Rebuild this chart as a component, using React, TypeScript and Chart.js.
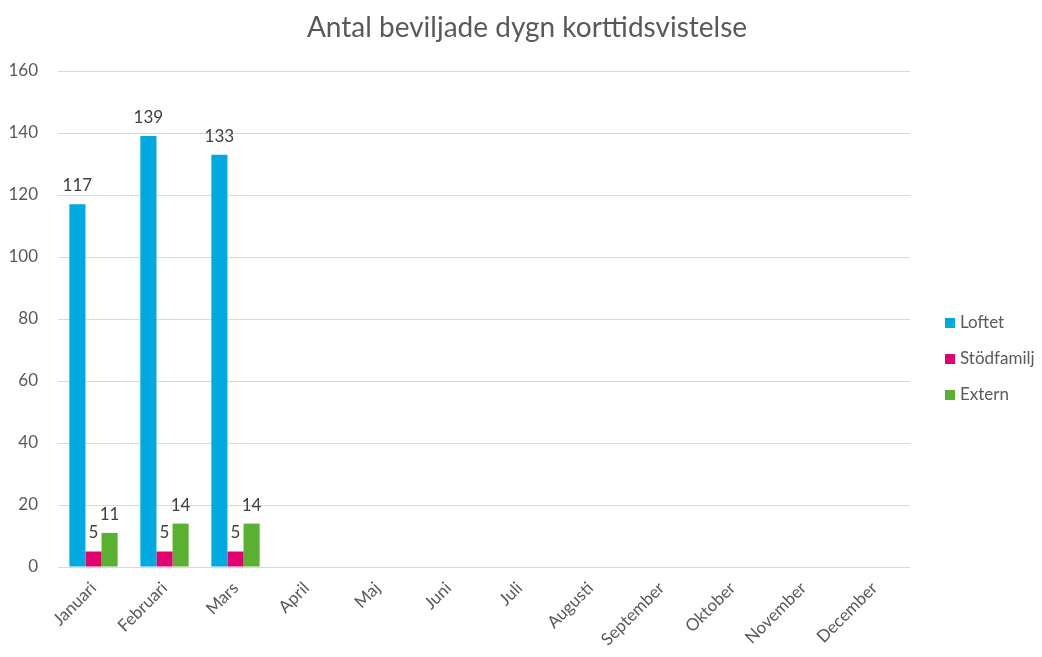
import React, { useEffect, useRef } from "react";
import { Chart, registerables } from "chart.js";

Chart.register(...registerables);

const titleText = "Antal beviljade dygn korttidsvistelse";
const months = ["Januari", "Februari", "Mars", "April", "Maj", "Juni", "Juli", "Augusti", "September", "Oktober", "November", "December"];
const loftet = [117, 139, 133, null, null, null, null, null, null, null, null, null];
const stodfamilj = [5, 5, 5, null, null, null, null, null, null, null, null, null];
const extern = [11, 14, 14, null, null, null, null, null, null, null, null, null];
const yTicks = [0, 20, 40, 60, 80, 100, 120, 140, 160];

const FONT = "Lato, 'Open Sans', sans-serif";
const TEXT = "#595959";

const valueLabels = {
  id: "valueLabels",
  afterDatasetsDraw(chart: any) {
    const ctx = chart.ctx;
    ctx.save();
    ctx.font = `17px ${FONT}`;
    ctx.fillStyle = "#404040";
    ctx.textAlign = "center";
    ctx.textBaseline = "bottom";
    chart.data.datasets.forEach((ds: any, i: number) => {
      const meta = chart.getDatasetMeta(i);
      meta.data.forEach((bar: any, j: number) => {
        const v = ds.data[j];
        if (v === null || v === undefined) return;
        ctx.fillText(String(v), bar.x, bar.y - 10);
      });
    });
    ctx.restore();
  },
};

const topTitle = {
  id: "topTitle",
  afterDraw(chart: any) {
    const ctx = chart.ctx;
    ctx.save();
    ctx.font = `28px ${FONT}`;
    ctx.fillStyle = TEXT;
    ctx.textAlign = "center";
    ctx.textBaseline = "middle";
    ctx.fillText(titleText, chart.width / 2 + 6, 28);
    ctx.restore();
  },
};

const sideLegend = {
  id: "sideLegend",
  afterDraw(chart: any) {
    const ctx = chart.ctx;
    const area = chart.chartArea;
    const items = chart.data.datasets;
    const gap = 36;
    const cy = (area.top + area.bottom) / 2 + 40;
    const startY = cy - ((items.length - 1) * gap) / 2;
    const x = area.right + 35;
    ctx.save();
    ctx.font = `17px ${FONT}`;
    ctx.textAlign = "left";
    ctx.textBaseline = "middle";
    items.forEach((ds: any, i: number) => {
      const y = startY + i * gap;
      ctx.fillStyle = ds.backgroundColor;
      ctx.fillRect(x, y - 5, 10, 10);
      ctx.fillStyle = TEXT;
      ctx.fillText(ds.label, x + 15, y);
    });
    ctx.restore();
  },
};

export default function App() {
  const ref = useRef<HTMLCanvasElement>(null);
  useEffect(() => {
    document.body.style.margin = "0";
    const chart = new Chart(ref.current!, {
      type: "bar",
      data: {
        labels: months,
        datasets: [
          { label: "Loftet", data: loftet, backgroundColor: "#00A9E0" },
          { label: "Stödfamilj", data: stodfamilj, backgroundColor: "#E0006E" },
          { label: "Extern", data: extern, backgroundColor: "#5AB031" },
        ],
      },
      options: {
        animation: false,
        responsive: false,
        maintainAspectRatio: false,
        layout: { padding: { left: 8, right: 132, top: 71, bottom: 4 } },
        datasets: { bar: { categoryPercentage: 0.68, barPercentage: 1.0 } },
        plugins: {
          title: { display: false },
          legend: { display: false },
          tooltip: { enabled: false },
        },
        scales: {
          x: {
            grid: { display: false },
            border: { display: false },
            afterFit: (axis: any) => {
              axis.height = 86;
              axis.paddingLeft = 0;
              axis.paddingRight = 0;
            },
            ticks: {
              color: TEXT,
              font: { family: FONT, size: 17 },
              minRotation: 45,
              maxRotation: 45,
              padding: 3,
            },
          },
          y: {
            min: 0,
            max: 160,
            afterBuildTicks: (axis: any) => {
              axis.ticks = yTicks.map((v) => ({ value: v }));
            },
            afterFit: (axis: any) => {
              axis.width = 50;
              axis.paddingTop = 0;
            },
            grid: { color: "#D9D9D9", drawTicks: false },
            border: { display: false },
            ticks: {
              color: TEXT,
              font: { family: FONT, size: 17 },
              padding: 20,
            },
          },
        },
      },
      plugins: [valueLabels, topTitle, sideLegend],
    });
    return () => chart.destroy();
  }, []);
  return (
    <div style={{ width: 1042, height: 657 }}>
      <canvas ref={ref} width={1042} height={657} />
    </div>
  );
}
